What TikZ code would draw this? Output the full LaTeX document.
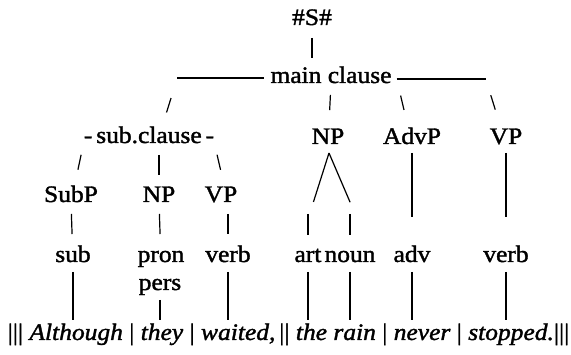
\documentclass[tikz,border=0pt]{standalone}
\usepackage{fontspec}
\setmainfont{Liberation Serif}[FakeStretch=1.08,FakeBold=1.5]

\begin{document}
\begin{tikzpicture}[x=1pt,y=-1pt,font=\fontsize{23.6}{27}\selectfont,
    every node/.style={inner sep=0pt,anchor=base}]
    \tikzstyle{branch}=[draw=black,line width=1.2pt]
    \tikzstyle{cat}=[text=black]
    \tikzstyle{word}=[cat]

    \useasboundingbox (0,0) rectangle (571,355);

    % Draw the top of the tree
    \node[cat] (S) at (312,25) {\#S\#};
    \node[cat] (mc) at (331,83) {main clause};

    % Draw the phrase layer
    \node[cat] (sc) at (149,143) {-\,sub.clause\,-};
    \foreach \name / \x / \txt in {NP/328/NP, AdvP/412/AdvP, VP/506/VP}
        \node[cat] (\name) at (\x,144) {\txt};

    % Draw the phrases of the sub clause
    \foreach \name / \x / \txt in {SubP/71/SubP, NPs/159/NP, VPs/221/VP}
        \node[cat] (\name) at (\x,202) {\txt};

    % Draw the word classes
    \foreach \name / \x / \txt in {sub/73/sub, pron/161/pron, verbA/228/verb, art/308/art, noun/350/noun, adv/412/adv, verbB/506/verb}
        \node[word] (\name) at (\x,262) {\txt};
    \node[word] (pers) at (160,290) {pers};

    % The sentence itself
    \node (sent) at (288.5,340) {||| \textit{Although} | \textit{they} | \textit{waited,}\,|| \textit{the rain} | \textit{never} | \textit{stopped.}|||};
    \coordinate (base) at ([shift={(0,-20)}]sent.base);

    % Rules on both sides of the main clause
    \coordinate (mcLi) at ([shift={(-6,-5)}]mc.base west);
    \coordinate (mcLo) at ([shift={(-93,-5)}]mc.base west);
    \coordinate (mcRi) at ([shift={(5,-4)}]mc.base east);
    \coordinate (mcRo) at ([shift={(94,-4)}]mc.base east);
    \draw[branch] (mcLo) -- (mcLi);
    \draw[branch] (mcRi) -- (mcRo);

    % Connect #S# with the main clause
    \draw[branch,shorten <=13pt,shorten >=25pt] (S.base) -- (S.base |- mc.base);

    % Connect the main clause with the phrases
    \draw[branch,shorten <=21pt,shorten >=32pt] (mcLo) -- ([xshift=8pt]sc.base);
    \draw[branch,shorten <=12pt,shorten >=34pt] (mc.base) -- (NP.base);
    \draw[branch,shorten <=17pt,shorten >=35pt] (mcRi) -- (AdvP.base);
    \draw[branch,shorten <=17pt,shorten >=36pt] (mcRo) -- (VP.base);

    % Connect the sub clause with its phrases
    \draw[branch,shorten <=12pt,shorten >=33pt] (sc.base west) -- (SubP.base);
    \draw[branch,shorten <=12pt,shorten >=27pt] (NPs.base |- sc.base) -- (NPs.base);
    \draw[branch,shorten <=12pt,shorten >=33pt] (sc.base east) -- ([xshift=7pt]VPs.base);

    % NP splits into article and noun
    \coordinate (NPa) at ([shift={(1,9)}]NP.base);
    \draw[branch,shorten >=63pt] (NPa) -- (art.base west);
    \draw[branch,shorten >=65pt] (NPa) -- (noun.base east);
    \foreach \dest in {art,noun}
        \draw[branch,shorten <=61pt,shorten >=27pt] (\dest.base |- NPa) -- (\dest.base);

    % Phrases down to their word classes
    \draw[branch,shorten <=9pt,shorten >=45pt] (AdvP.base) -- (adv.base);
    \draw[branch,shorten <=9pt,shorten >=45pt] (VP.base) -- (verbB.base);
    \draw[branch,shorten <=12pt,shorten >=28pt] (SubP.base) -- (sub.base);
    \draw[branch,shorten <=12pt,shorten >=28pt] (NPs.base) -- (pron.base);
    \draw[branch,shorten <=12pt,shorten >=28pt] (verbA.base |- VPs.base) -- (verbA.base);

    % Word classes down to the sentence
    \foreach \source in {sub,verbA,art,noun,adv,verbB}
        \draw[branch,shorten <=10pt] (\source.base) -- (\source.base |- base);
    \draw[branch,shorten <=10pt] (pers.base) -- (pers.base |- base);
\end{tikzpicture}
\end{document}
